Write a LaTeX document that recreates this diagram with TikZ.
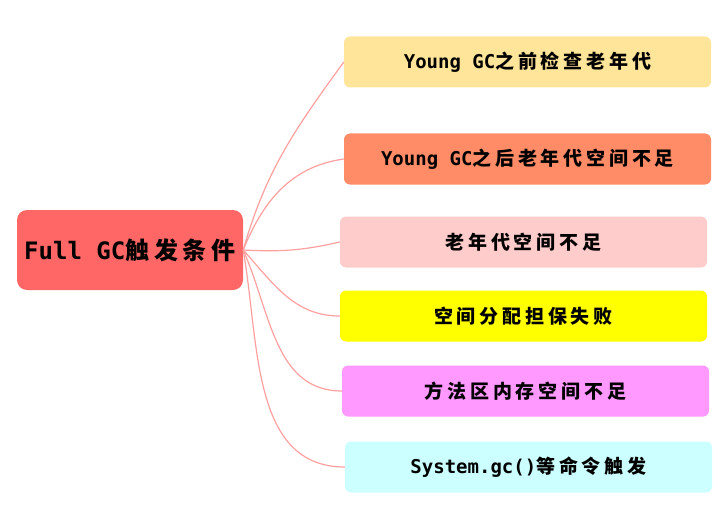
\documentclass[tikz,border=0pt]{standalone}
\usepackage{fontspec}
\usepackage{xcolor}
\usetikzlibrary{math}
\usetikzlibrary{positioning}

\newfontfamily\cjk{Noto Sans CJK SC}[LetterSpace=20]
\newfontfamily\mono{DejaVu Sans Mono}

\definecolor{rootred}{HTML}{FF6666}
\definecolor{linkpink}{HTML}{FFA0A0}
\definecolor{leafA}{HTML}{FFE599}
\definecolor{leafB}{HTML}{FF8C66}
\definecolor{leafC}{HTML}{FFCCCC}
\definecolor{leafD}{HTML}{FFFF00}
\definecolor{leafE}{HTML}{FF99FF}
\definecolor{leafF}{HTML}{CCFFFF}

\tikzset{
  rootbox/.style={fill=rootred, rounded corners=10pt, minimum width=226pt,
    minimum height=80pt, inner sep=0pt,
    font=\bfseries\fontsize{24}{24}\selectfont},
  leaf/.style={rounded corners=6pt, minimum width=367pt, minimum height=51pt,
    inner sep=0pt, font=\bfseries\fontsize{19}{19}\selectfont},
  branch/.style={draw=linkpink, line width=1.2pt},
}

\begin{document}
\begin{tikzpicture}[x=1pt,y=-1pt]

  \tikzmath{
    \leftx  = 527.5; % centre of the upper and lower leaves
    \midx   = 523.5; % centre of the middle leaves
  }

  \useasboundingbox (0,0) rectangle (728,508);

  % root of the mind map
  \node[rootbox] (root) at (130, 250) {\mono Full GC\cjk 触发条件};

  % leaves
  \node[leaf, fill=leafA] (young)  at (\leftx, 62)  {\mono Young GC\cjk 之前检查老年代};
  \node[leaf, fill=leafB] (after)  at (\leftx, 159) {\mono Young GC\cjk 之后老年代空间不足};
  \node[leaf, fill=leafC] (old)    at (\midx, 242)  {\cjk 老年代空间不足};
  \node[leaf, fill=leafD] (promo)  at (\midx, 316)  {\cjk 空间分配担保失败};
  \node[leaf, fill=leafE] (meta)   at (525.5, 391)  {\cjk 方法区内存空间不足};
  \node[leaf, fill=leafF] (sysgc)  at (528.5, 467)  {\mono System.gc()\cjk 等命令触发};

  % branches
  \draw[branch] (root.east) to[out=74, in=234] (young.west);
  \draw[branch] (root.east) to[out=68, in=188] (after.west);
  \draw[branch] (root.east) to[out=-3, in=193] (old.west);
  \draw[branch] (root.east) to[out=-48, in=180] (promo.west);
  \draw[branch] (root.east) to[out=-66, in=180] (meta.west);
  \draw[branch] (root.east) to[out=-80, in=180] (sysgc.west);

\end{tikzpicture}
\end{document}
